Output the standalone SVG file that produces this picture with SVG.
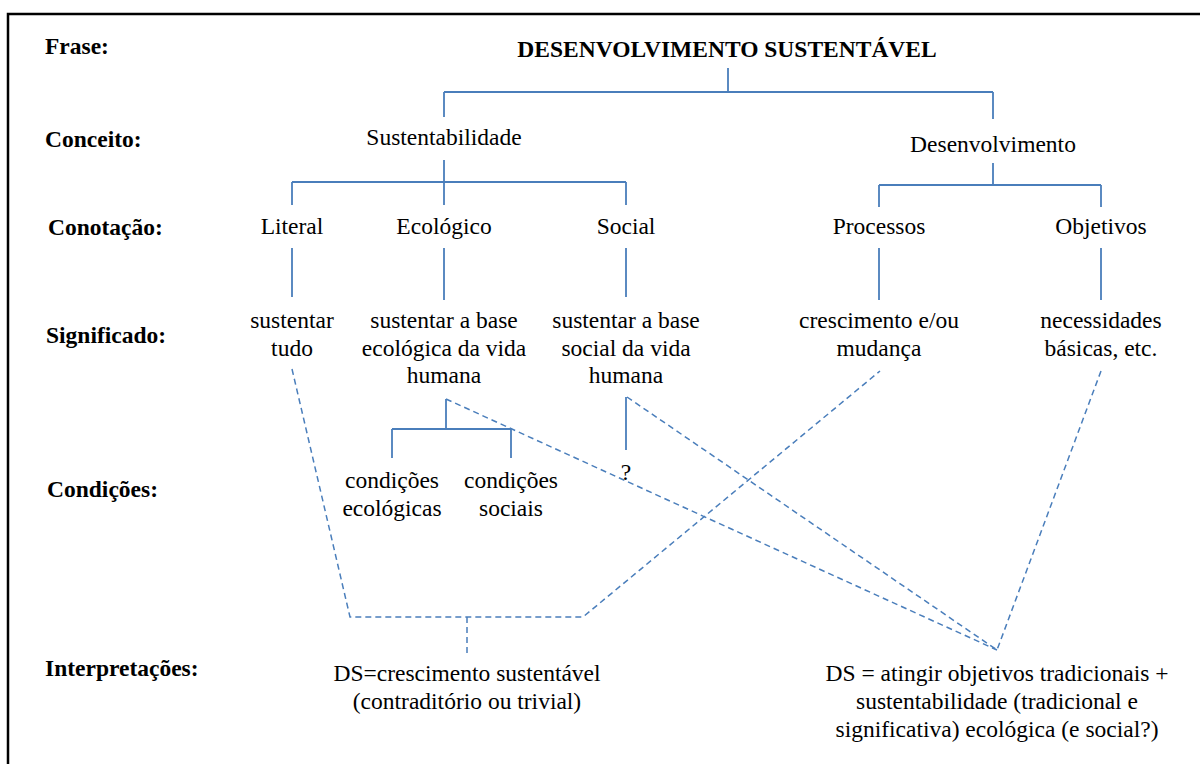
<svg xmlns="http://www.w3.org/2000/svg" width="1200" height="764" viewBox="0 0 1200 764">
  <style>
    text { font-family: "Liberation Serif", "Times New Roman", serif; font-size: 23.5px; fill: #000; }
    .lbl { font-weight: bold; }
    .t { text-anchor: middle; }
    .title { font-weight: bold; text-anchor: middle; }
    .c { fill: none; stroke: #4a7ebb; stroke-width: 1.8; }
    .d { fill: none; stroke: #4a7ebb; stroke-width: 1.5; stroke-dasharray: 6 4; }
  </style>
  <rect x="0" y="0" width="1200" height="764" fill="#fff"/>
  <rect x="8" y="14" width="1400" height="900" fill="none" stroke="#000" stroke-width="2.5"/>

  <g id="row-labels">
    <text class="lbl" x="45" y="54">Frase:</text>
    <text class="lbl" x="45" y="147">Conceito:</text>
    <text class="lbl" x="48" y="235">Conotação:</text>
    <text class="lbl" x="46" y="343">Significado:</text>
    <text class="lbl" x="47" y="497">Condições:</text>
    <text class="lbl" x="45" y="676">Interpretações:</text>
  </g>

  <g id="connectors">
    <path class="c" d="M728 68 V92 M444 92 H993 M444 92 V117 M993 92 V119"/>
    <path class="c" d="M444 160 V182 M292 182 H626 M292 182 V205 M444 182 V205 M626 182 V205"/>
    <path class="c" d="M993 163 V185 M879 185 H1101 M879 185 V207 M1101 185 V207"/>
    <path class="c" d="M292 248 V297 M444 248 V300 M626 248 V297 M879 248 V300 M1101 248 V300"/>
    <path class="c" d="M446 399 V429 M392 429 H511 M392 429 V458 M511 429 V458"/>
    <path class="c" d="M626 397 V450"/>
    <path class="d" d="M292 369 L350 617 H583 L880 371"/>
    <path class="d" d="M467 617 V655"/>
    <path class="d" d="M446 399 L997 650"/>
    <path class="d" d="M627 397 L997 650"/>
    <path class="d" d="M1101 371 L997 650"/>
  </g>

  <g id="frase"><text class="title" x="727" y="57">DESENVOLVIMENTO SUSTENTÁVEL</text></g>
  <g id="sustentabilidade"><text class="t" x="444" y="145">Sustentabilidade</text></g>
  <g id="desenvolvimento"><text class="t" x="993" y="152">Desenvolvimento</text></g>

  <g id="literal"><text class="t" x="292" y="234">Literal</text></g>
  <g id="ecologico"><text class="t" x="444" y="234">Ecológico</text></g>
  <g id="social"><text class="t" x="626" y="234">Social</text></g>
  <g id="processos"><text class="t" x="879" y="234">Processos</text></g>
  <g id="objetivos"><text class="t" x="1101" y="234">Objetivos</text></g>

  <g id="sig-literal">
    <text class="t" x="292" y="328">sustentar</text>
    <text class="t" x="292" y="355.5">tudo</text>
  </g>
  <g id="sig-ecologico">
    <text class="t" x="444" y="328">sustentar a base</text>
    <text class="t" x="444" y="355.5">ecológica da vida</text>
    <text class="t" x="444" y="383">humana</text>
  </g>
  <g id="sig-social">
    <text class="t" x="626" y="328">sustentar a base</text>
    <text class="t" x="626" y="355.5">social da vida</text>
    <text class="t" x="626" y="383">humana</text>
  </g>
  <g id="sig-processos">
    <text class="t" x="879" y="328">crescimento e/ou</text>
    <text class="t" x="879" y="355.5">mudança</text>
  </g>
  <g id="sig-objetivos">
    <text class="t" x="1101" y="328">necessidades</text>
    <text class="t" x="1101" y="355.5">básicas, etc.</text>
  </g>

  <g id="cond-ecologicas">
    <text class="t" x="392" y="488">condições</text>
    <text class="t" x="392" y="516">ecológicas</text>
  </g>
  <g id="cond-sociais">
    <text class="t" x="511" y="488">condições</text>
    <text class="t" x="511" y="516">sociais</text>
  </g>
  <g id="cond-social-q"><text class="t" x="626" y="480">?</text></g>

  <g id="interp-crescimento">
    <text class="t" x="467" y="681">DS=crescimento sustentável</text>
    <text class="t" x="467" y="709">(contraditório ou trivial)</text>
  </g>
  <g id="interp-objetivos">
    <text class="t" x="997" y="681">DS = atingir objetivos tradicionais +</text>
    <text class="t" x="997" y="709">sustentabilidade (tradicional e</text>
    <text class="t" x="997" y="737">significativa) ecológica (e social?)</text>
  </g>
</svg>
